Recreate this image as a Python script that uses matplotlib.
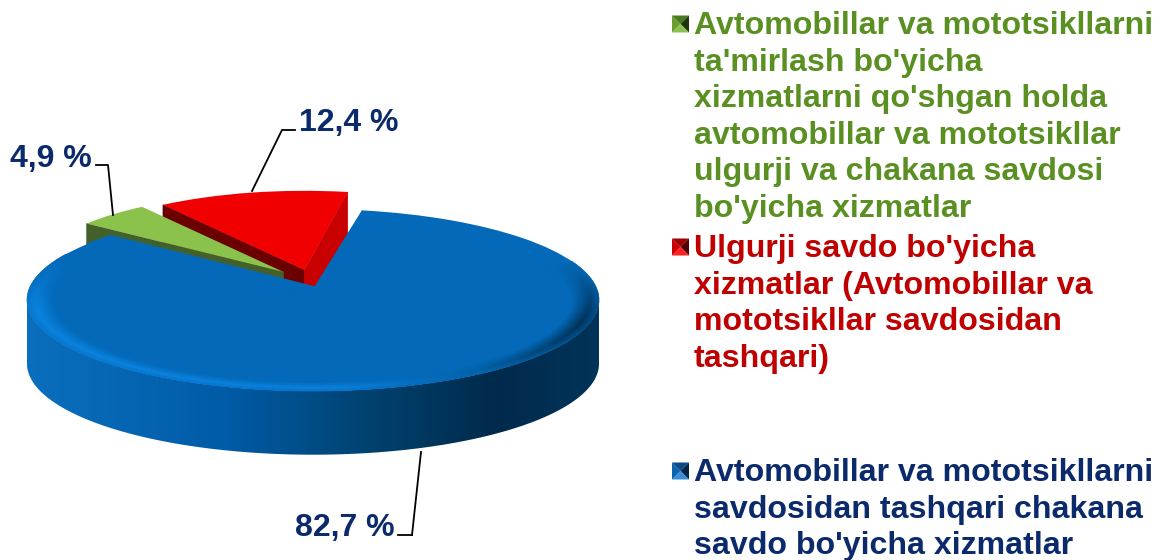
import numpy as np
import matplotlib
matplotlib.use('Agg')
import matplotlib.pyplot as plt
from matplotlib.colors import LinearSegmentedColormap, to_rgb
from matplotlib.patches import Polygon

plt.rcParams['font.family'] = ['Liberation Sans', 'DejaVu Sans']

# values in the order they go clockwise round the pie
values = [82.7, 4.9, 12.4]
value_labels = ['82,7 %', '4,9 %', '12,4 %']
categories = [
    "Avtomobillar va mototsikllarni\nsavdosidan tashqari chakana\nsavdo bo'yicha xizmatlar",
    "Avtomobillar va mototsikllarni\nta'mirlash bo'yicha\nxizmatlarni qo'shgan holda\navtomobillar va mototsikllar\nulgurji va chakana savdosi\nbo'yicha xizmatlar",
    "Ulgurji savdo bo'yicha\nxizmatlar (Avtomobillar va\nmototsikllar savdosidan\ntashqari)",
]

W, H = 1160, 560
CX, CY = 313, 300      # centre of the top ellipse, pixels
RX, RY = 286, 91
BLUE, GREEN, RED = '#0369B8', '#8AC24B', '#F00000'
NAVY = '#0B2A6B'
DEPTH = 0.7


def mix(c1, c2, t):
    return tuple((1 - t) * a + t * b for a, b in zip(to_rgb(c1), to_rgb(c2)))


def edge_wall(ax, wedge, theta, depth, color, z):
    # side of a slice along one straight edge
    x0, y0 = wedge.center
    x1 = x0 + wedge.r * np.cos(np.radians(theta))
    y1 = y0 + wedge.r * np.sin(np.radians(theta))
    ax.fill([x0, x1, x1, x0], [y0, y1, y1 - depth, y0 - depth], color=color, lw=0.5, zorder=z)


fig = plt.figure(figsize=(W / 100, H / 100), dpi=100)
ax = fig.add_axes([0, 0, 1, 1])

wedges, _ = ax.pie(values, colors=[BLUE, GREEN, RED], startangle=80, counterclock=False)
ax.set_aspect('auto')
limits = (-CX / RX, (W - CX) / RX), ((CY - H) / RY, CY / RY)

blue, green, red = wedges
red.set_center((-0.03, 0.33))
red.set_radius(0.87)
red.set_zorder(3)
green.set_center((-0.103, 0.308))
green.set_radius(0.87)
green.set_zorder(5)
blue.set_zorder(8)

# back slices first so that the blue one hides their feet
edge_wall(ax, red, red.theta2, 0.5, '#6A0000', 2)
edge_wall(ax, red, red.theta1, 0.5, '#C90000', 2)
edge_wall(ax, green, green.theta2, 0.25, '#44602A', 4)

# the blue slice's point sits behind the ellipse centre, so fill up to it
apex = (0.007, 0.143)
arc_end = np.radians(np.linspace(blue.theta1 + 360, 135, 12))
ax.fill(np.r_[0, np.cos(arc_end), apex[0], np.cos(np.radians(blue.theta2))],
        np.r_[0, np.sin(arc_end), apex[1], np.sin(np.radians(blue.theta2))],
        fc=BLUE, ec=BLUE, lw=1.0, zorder=8)

# side of the blue slice, shaded from left to right
side_cmap = LinearSegmentedColormap.from_list(
    'side', [(0, '#0A6FBE'), (0.35, '#015BA6'), (0.6, '#00426F'), (0.82, '#002A4C'), (1, '#003459')])
th = np.radians(np.linspace(180, 360, 181))
wall = Polygon(np.c_[np.r_[np.cos(th), np.cos(th)[::-1]],
                     np.r_[np.sin(th), np.sin(th)[::-1] - DEPTH]],
               transform=ax.transData, fc='none', ec='none')
ax.add_patch(wall)
img = ax.imshow(np.linspace(0, 1, 400)[None, :], cmap=side_cmap, aspect='auto',
                extent=(-1, 1, -1 - DEPTH, 0), zorder=7)
img.set_clip_path(wall)

# soft rim round the front of the top face: face -> bright -> side
rim_cmap = LinearSegmentedColormap.from_list(
    'rim', [(0, '#0A84E0'), (0.55, '#0A80DC'), (0.8, '#0360A8'), (1, '#002F52')])
th_deg = np.linspace(150, 385, 119)
radii = np.linspace(0.905, 1.0, 17)
for j in range(len(radii) - 1):
    strength = np.interp((radii[j] + radii[j + 1]) / 2, [0.905, 0.97, 1.0], [0, 1, 0.55])
    for i in range(len(th_deg) - 1):
        a = np.radians(th_deg[i:i + 2])
        xs, ys = np.cos(a), np.sin(a)
        fade = min(1, (th_deg[i] - 150) / 35, (385 - th_deg[i]) / 40)
        col = mix(BLUE, rim_cmap((xs.mean() + 1) / 2)[:3], strength * fade)
        ax.fill(np.r_[xs * radii[j], xs[::-1] * radii[j + 1]],
                np.r_[ys * radii[j], ys[::-1] * radii[j + 1]],
                color=col, lw=0.5, zorder=9)

ax.set_xlim(limits[0])
ax.set_ylim(limits[1])
ax.axis('off')

# second axes in pixels for leader lines, labels and legend
ov = fig.add_axes([0, 0, 1, 1], facecolor='none')
ov.set_xlim(0, W)
ov.set_ylim(H, 0)
ov.axis('off')

ov.plot([412, 421], [535, 452], color='black', lw=1.3)
ov.plot([398, 412], [535, 535], color='black', lw=1.3)
ov.plot([96, 108, 113], [165, 165, 215], color='black', lw=1.3)
ov.plot([295, 282, 252], [130, 130, 191], color='black', lw=1.3)

ov.text(295, 528, value_labels[0], color=NAVY, fontsize=23, fontweight='bold', va='center')
ov.text(10, 159, value_labels[1], color=NAVY, fontsize=23, fontweight='bold', va='center')
ov.text(299, 123, value_labels[2], color=NAVY, fontsize=23, fontweight='bold', va='center')

# legend text and its little pyramid markers
legend_y = [458, 11, 234]
legend_colors = [NAVY, '#5A9022', '#C00000']
marker_shades = [
    ['#0A64B0', '#0B4A85', '#052545', '#3B8ED6'],
    ['#6A9E30', '#4A7A1E', '#1E340C', '#8CC152'],
    ['#CC0000', '#A00000', '#500000', '#FF2020'],
]
for i, label in enumerate(categories):
    ov.text(694, legend_y[i], label, color=legend_colors[i], fontsize=23.15, fontweight='bold',
            va='top', linespacing=1.285)
    x0, x1, y0, y1 = 672, 689, legend_y[i] + 4.5, legend_y[i] + 21.5
    xm, ym = (x0 + x1) / 2, (y0 + y1) / 2
    left, top, right, bottom = marker_shades[i]
    ov.fill([x0, xm, x0], [y0, ym, y1], color=left, lw=0)
    ov.fill([x0, xm, x1], [y0, ym, y0], color=top, lw=0)
    ov.fill([x1, xm, x1], [y0, ym, y1], color=right, lw=0)
    ov.fill([x0, xm, x1], [y1, ym, y1], color=bottom, lw=0)

fig.savefig('out.png', dpi=100)
